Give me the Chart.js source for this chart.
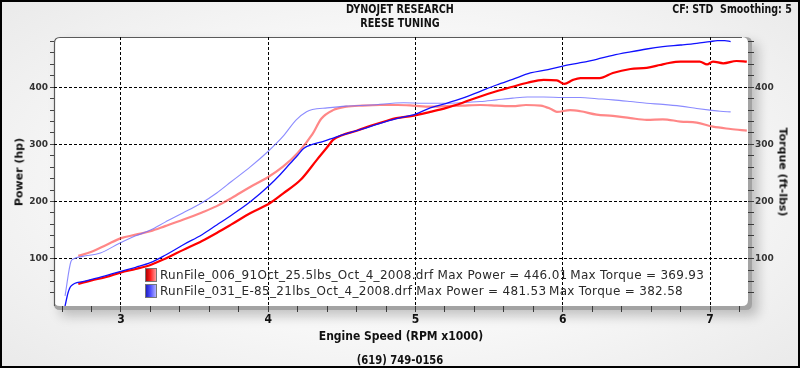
<!DOCTYPE html>
<html>
<head>
<meta charset="utf-8">
<script src="https://cdn.jsdelivr.net/npm/chart.js@4.4.1/dist/chart.umd.min.js"></script>
<style>
html,body{margin:0;padding:0;background:#fff;}
#wrap{position:relative;width:800px;height:368px;overflow:hidden;
  background:radial-gradient(ellipse 70% 75% at 50% 50%, #ffffff 0%, #f7f7f7 55%, #e9e9e9 100%);}
#c{position:absolute;left:0;top:0;}
.t{position:absolute;white-space:nowrap;font-family:"Liberation Sans Narrow","DejaVu Sans Condensed","Arial Narrow",sans-serif;font-weight:bold;color:#111;line-height:1;}
.v{position:absolute;white-space:nowrap;font-family:"DejaVu Sans",Verdana,sans-serif;font-weight:bold;font-size:11px;color:#111;line-height:1;}
#legend{position:absolute;left:145px;top:267px;font-family:"DejaVu Sans",Verdana,sans-serif;font-size:12px;letter-spacing:0.3px;color:#2a2a2a;line-height:16px;}
#legend .row{display:flex;align-items:center;height:16px;white-space:nowrap;}
#legend .sw{display:inline-block;width:12px;height:14px;margin-right:3px;box-sizing:border-box;border:1px solid #777;}
#frame{position:absolute;left:0;top:0;width:800px;height:368px;box-sizing:border-box;border:2px solid #000;pointer-events:none;}
</style>
</head>
<body>
<div id="wrap">
  <canvas id="c" width="800" height="368"></canvas>
  <div class="t" style="left:0;width:800px;text-align:center;top:3px;font-size:12px;transform:scaleX(0.89);">DYNOJET RESEARCH</div>
  <div class="t" style="left:0;width:800px;text-align:center;top:17px;font-size:12px;transform:scaleX(0.89);">REESE TUNING</div>
  <div class="t" style="right:8px;top:3px;font-size:12px;transform:scaleX(0.88);transform-origin:100% 50%;">CF: STD&nbsp;&nbsp;Smoothing: 5</div>
  <div class="v" style="left:19px;top:172px;transform:translate(-50%,-50%) rotate(-90deg);">Power (hp)</div>
  <div class="v" style="left:783px;top:172px;transform:translate(-50%,-50%) rotate(90deg);">Torque (ft-lbs)</div>
  <div class="t" style="left:0;width:802px;text-align:center;top:330px;font-size:12px;">Engine Speed (RPM x1000)</div>
  <div class="t" style="left:0;width:800px;text-align:center;top:354px;font-size:12px;transform:scaleX(0.93);">(619) 749-0156</div>
  <div id="legend"></div>
  <div id="frame"></div>
</div>
<script>
// ---------- data ----------
const runNames = ["RunFile_006_91Oct_25.5lbs_Oct_4_2008.drf", "RunFile_031_E-85_21lbs_Oct_4_2008.drf"];
const maxPower = ["446.01", "481.53"];
const maxTorque = ["369.93", "382.58"];

const xTickLabels = [3, 4, 5, 6, 7];
const yTickLabels = [100, 200, 300, 400];

// Run 1 (red) power
const redPowerRpm = [2.71,2.80,2.90,3.00,3.10,3.20,3.30,3.42,3.55,3.65,3.75,3.88,4.01,4.10,4.22,4.33,4.40,4.44,4.50,4.60,4.70,4.80,4.87,4.98,5.10,5.21,5.32,5.44,5.55,5.66,5.76,5.87,5.96,6.01,6.07,6.12,6.25,6.34,6.46,6.57,6.66,6.71,6.80,6.93,6.98,7.02,7.09,7.18,7.25];
const redPowerHp  = [56,62,68,76,82,89,100,115,131,145,160,180,197,214,238,273,295,308,316,324,333,341,346,350,357,364,373,384,393,401,408,413,412,406,413,416,416,425,432,434,439,442,445,445,440,445,442,446,445];

// Run 1 (red) torque
const redTorqueRpm = [2.71,2.80,2.90,3.00,3.10,3.20,3.30,3.42,3.55,3.65,3.75,3.88,4.00,4.10,4.20,4.30,4.36,4.44,4.53,4.64,4.76,4.88,4.98,5.10,5.21,5.32,5.44,5.55,5.66,5.75,5.85,5.92,5.96,6.05,6.12,6.23,6.34,6.46,6.57,6.68,6.80,6.91,7.02,7.14,7.25];
const redTorqueLb  = [105,112,124,136,142,148,157,168,181,192,206,226,243,261,285,318,345,360,366,368,369,369,368,366,367,368,369,368,367,369,368,362,357,360,358,352,350,346,343,344,340,338,331,327,324];

// Run 2 (blue) power
const bluePowerRpm = [2.62,2.64,2.66,2.74,2.85,3.00,3.10,3.20,3.30,3.42,3.55,3.65,3.75,3.88,4.01,4.08,4.15,4.20,4.24,4.30,4.37,4.45,4.51,4.64,4.75,4.87,5.00,5.10,5.21,5.32,5.44,5.55,5.66,5.78,5.90,6.00,6.12,6.23,6.34,6.46,6.57,6.68,6.80,6.91,7.00,7.05,7.10,7.14];
const bluePowerHp  = [17,40,52,60,67,78,85,93,106,124,142,159,176,200,229,247,267,281,293,300,305,312,317,327,336,345,353,364,372,381,393,404,414,425,431,437,443,449,456,462,467,471,474,477,480,481.5,481.5,480];

// Run 2 (blue) torque
const blueTorqueRpm = [2.62,2.66,2.68,2.74,2.86,2.99,3.10,3.20,3.30,3.42,3.55,3.65,3.75,3.88,4.00,4.10,4.19,4.26,4.30,4.40,4.53,4.70,4.92,5.05,5.21,5.32,5.44,5.55,5.66,5.76,5.87,6.00,6.12,6.23,6.34,6.46,6.57,6.68,6.80,6.91,7.00,7.07,7.14];
const blueTorqueLb  = [35,95,100,104,110,127,140,150,164,180,198,215,235,261,288,314,343,357,361,364,367,369,373,372,372,373,375,378,381,383,383,382,382,380,378,375,372,370,367,363,360,358,357];

// ---------- legend ----------
const legendColors = [["#b00000","#ff2020","#ff9a9a"],["#2020c0","#5050ff","#b0b0ff"]];
const lg = document.getElementById('legend');
runNames.forEach((n,i)=>{
  const row = document.createElement('div'); row.className='row';
  const sw = document.createElement('span'); sw.className='sw';
  const c = legendColors[i];
  sw.style.background = `linear-gradient(90deg, ${c[0]} 0%, ${c[1]} 45%, ${c[2]} 100%)`;
  row.appendChild(sw);
  const tx = document.createElement('span');
  tx.textContent = n + ' Max Power = ' + maxPower[i] + '\u2009Max Torque = ' + maxTorque[i];
  row.appendChild(tx);
  lg.appendChild(row);
});

// ---------- chart ----------
const toPts = (xs, ys) => xs.map((x,i)=>({x:x, y:ys[i]}));
const near = (a,b) => Math.abs(a-b) < 1e-6;
const isMajorX = v => xTickLabels.some(t=>near(t,v));
const isMajorY = v => yTickLabels.some(t=>near(t,v));
const stepTicks = (from, to, step) => { const a=[]; for (let v=from; v<=to+1e-9; v+=step) a.push({value: Math.round(v*1000)/1000}); return a; };

const X_MIN = 2.545, X_MAX = 7.258, Y_MIN = 17.2, Y_MAX = 488;

const framePlugin = {
  id: 'frame',
  beforeDraw(chart){
    const ctx = chart.ctx, a = chart.chartArea;
    const L=a.left, T=a.top, R=a.right, B=a.bottom, r=6;
    const rr = (x0,y0,x1,y1,rad) => {
      ctx.beginPath();
      ctx.moveTo(x0+rad,y0); ctx.lineTo(x1-rad,y0); ctx.quadraticCurveTo(x1,y0,x1,y0+rad);
      ctx.lineTo(x1,y1-rad); ctx.quadraticCurveTo(x1,y1,x1-rad,y1);
      ctx.lineTo(x0+rad,y1); ctx.quadraticCurveTo(x0,y1,x0,y1-rad);
      ctx.lineTo(x0,y0+rad); ctx.quadraticCurveTo(x0,y0,x0+rad,y0); ctx.closePath();
    };
    ctx.save();
    ctx.shadowColor = 'rgba(0,0,0,0.22)'; ctx.shadowBlur = 12; ctx.shadowOffsetX = 6; ctx.shadowOffsetY = 6;
    rr(L, T, R+4, B+4, r); ctx.fillStyle = '#a3a3a3'; ctx.fill();
    ctx.shadowColor = 'transparent';
    rr(L, T, R, B, r); ctx.fillStyle = '#ffffff'; ctx.fill();
    ctx.lineWidth = 1.2; ctx.strokeStyle = '#5a5a5a';
    ctx.beginPath(); ctx.moveTo(L+0.5, B); ctx.lineTo(L+0.5, T+r); ctx.quadraticCurveTo(L+0.5,T+0.5,L+r,T+0.5); ctx.lineTo(R-r, T+0.5); ctx.stroke();
    ctx.restore();
  }
};

new Chart(document.getElementById('c'), {
  type: 'line',
  data: {
    datasets: [
      {label:'p1', data: toPts(redPowerRpm, redPowerHp), yAxisID:'y', borderColor:'#ff0000', borderWidth:2.2, order:1},
      {label:'p2', data: toPts(bluePowerRpm, bluePowerHp), yAxisID:'y', borderColor:'#1010ff', borderWidth:1.3, order:0},
      {label:'t1', data: toPts(redTorqueRpm, redTorqueLb), yAxisID:'y2', borderColor:'rgba(255,70,70,0.65)', borderWidth:2.2, order:3},
      {label:'t2', data: toPts(blueTorqueRpm, blueTorqueLb), yAxisID:'y2', borderColor:'rgba(110,110,255,0.8)', borderWidth:1.1, order:2}
    ]
  },
  options: {
    responsive:false, animation:false, devicePixelRatio:1,
    layout:{padding:{top:37, left:0, right:0, bottom:0}},
    elements:{point:{radius:0}, line:{cubicInterpolationMode:'monotone', fill:false}},
    plugins:{legend:{display:false}, tooltip:{enabled:false}, title:{display:false}},
    scales:{
      x:{
        type:'linear', position:'bottom', min:X_MIN, max:X_MAX,
        afterBuildTicks: ax => { ax.ticks = stepTicks(2.6, 7.2, 0.2); },
        afterFit: ax => { ax.height = 62; },
        grid:{color: c => isMajorX(c.tick.value) ? '#000' : 'rgba(0,0,0,0)', lineWidth:1, tickColor:'#3a3a3a', tickLength:6, tickWidth:1},
        border:{display:false, dash:[3,2]},
        ticks:{autoSkip:false, maxRotation:0, padding:1, color:'#111',
          font:{family:'"Liberation Sans Narrow","DejaVu Sans Condensed",sans-serif', weight:'bold', size:12},
          callback: v => isMajorX(v) ? String(Math.round(v)) : ''}
      },
      y:{
        type:'linear', position:'left', min:Y_MIN, max:Y_MAX,
        afterBuildTicks: ax => { ax.ticks = stepTicks(40, 480, 20); },
        afterFit: ax => { ax.width = 54; },
        grid:{color: c => isMajorY(c.tick.value) ? '#000' : 'rgba(0,0,0,0)', lineWidth:1, tickColor:'#444', tickLength:4, tickWidth:1},
        border:{display:false, dash:[3,2]},
        ticks:{autoSkip:false, padding:2, color:'#333',
          font:{family:'"DejaVu Sans",Verdana,sans-serif', weight:'bold', size:9},
          callback: v => isMajorY(v) ? String(Math.round(v)) : ''}
      },
      y2:{
        type:'linear', position:'right', min:Y_MIN, max:Y_MAX,
        afterBuildTicks: ax => { ax.ticks = stepTicks(40, 480, 20); },
        afterFit: ax => { ax.width = 52; },
        grid:{drawOnChartArea:false, tickColor:'#3a3a3a', tickLength:6, tickWidth:1},
        border:{display:false},
        ticks:{autoSkip:false, padding:1, color:'#333',
          font:{family:'"DejaVu Sans",Verdana,sans-serif', weight:'bold', size:9},
          callback: v => isMajorY(v) ? String(Math.round(v)) : ''}
      }
    }
  },
  plugins:[framePlugin]
});
</script>
</body>
</html>
